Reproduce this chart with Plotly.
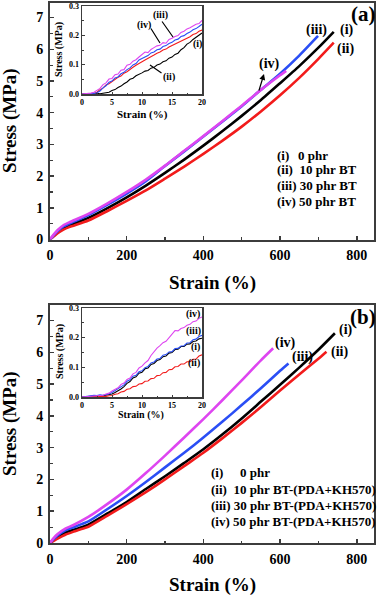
import plotly.graph_objects as go

# ---------------- data ----------------
# Panel (a) main curves: strain (%) / stress (MPa)
A_I_STRAIN = [0, 10, 20, 35, 50, 100, 150, 200, 250, 300, 350, 400, 450, 500, 550, 600, 650, 700, 740]
A_I_STRESS = [0, 0.12, 0.23, 0.36, 0.44, 0.68, 0.99, 1.33, 1.70, 2.10, 2.52, 2.96, 3.42, 3.90, 4.40, 4.93, 5.47, 6.05, 6.55]
A_II_STRAIN = [0, 10, 20, 35, 50, 100, 150, 200, 250, 300, 350, 400, 450, 500, 550, 600, 650, 700, 740]
A_II_STRESS = [0, 0.10, 0.20, 0.31, 0.39, 0.60, 0.90, 1.22, 1.55, 1.92, 2.30, 2.70, 3.12, 3.56, 4.04, 4.55, 5.10, 5.70, 6.21]
A_III_STRAIN = [0, 10, 20, 35, 50, 100, 150, 200, 250, 300, 350, 400, 450, 500, 550, 600, 650, 699]
A_III_STRESS = [0, 0.14, 0.27, 0.41, 0.50, 0.77, 1.10, 1.45, 1.84, 2.32, 2.78, 3.25, 3.72, 4.20, 4.72, 5.23, 5.80, 6.42]
A_IV_STRAIN = [0, 10, 20, 35, 50, 100, 150, 200, 250, 300, 350, 400, 450, 500, 550, 600, 616]
A_IV_STRESS = [0, 0.16, 0.30, 0.45, 0.54, 0.81, 1.14, 1.50, 1.89, 2.33, 2.80, 3.26, 3.74, 4.22, 4.72, 5.18, 5.32]

# Panel (b) main curves
B_I_STRAIN = [0, 10, 20, 40, 60, 80, 100, 150, 200, 250, 300, 350, 400, 450, 500, 550, 600, 650, 700, 743]
B_I_STRESS = [0, 0.11, 0.20, 0.33, 0.41, 0.49, 0.58, 0.93, 1.29, 1.70, 2.10, 2.52, 2.95, 3.42, 3.92, 4.45, 4.98, 5.52, 6.08, 6.60]
B_II_STRAIN = [0, 10, 20, 40, 60, 80, 100, 150, 200, 250, 300, 350, 400, 450, 500, 550, 600, 650, 700, 721]
B_II_STRESS = [0, 0.07, 0.14, 0.26, 0.35, 0.43, 0.51, 0.86, 1.22, 1.60, 2.00, 2.42, 2.84, 3.30, 3.78, 4.28, 4.80, 5.30, 5.80, 6.02]
B_III_STRAIN = [0, 10, 20, 40, 60, 100, 150, 200, 250, 300, 350, 400, 450, 500, 550, 600, 622]
B_III_STRESS = [0, 0.13, 0.24, 0.40, 0.49, 0.68, 1.07, 1.48, 1.92, 2.38, 2.84, 3.32, 3.82, 4.34, 4.87, 5.42, 5.65]
B_IV_STRAIN = [0, 10, 20, 40, 60, 100, 150, 200, 250, 300, 350, 400, 450, 500, 550, 582]
B_IV_STRESS = [0, 0.16, 0.28, 0.45, 0.56, 0.82, 1.23, 1.68, 2.20, 2.75, 3.32, 3.90, 4.50, 5.12, 5.75, 6.13]

# Insets: strain 0-20 % in 0.5 % steps
INSET_STRAIN = [0, 0.5, 1, 1.5, 2, 2.5, 3, 3.5, 4, 4.5, 5, 5.5, 6, 6.5, 7, 7.5, 8, 8.5, 9, 9.5,
                10, 10.5, 11, 11.5, 12, 12.5, 13, 13.5, 14, 14.5, 15, 15.5, 16, 16.5, 17, 17.5,
                18, 18.5, 19, 19.5, 20]
INA_I = [0.000, 0.001, 0.000, 0.001, 0.000, 0.002, 0.001, 0.003, 0.004, 0.006, 0.012, 0.015, 0.022, 0.027,
         0.035, 0.041, 0.050, 0.054, 0.062, 0.066, 0.072, 0.078, 0.080, 0.088, 0.091, 0.099, 0.102, 0.110,
         0.113, 0.122, 0.126, 0.135, 0.139, 0.151, 0.158, 0.170, 0.176, 0.186, 0.193, 0.202, 0.208]
INA_II = [0.000, 0.001, 0.000, 0.001, 0.002, 0.006, 0.015, 0.020, 0.031, 0.035, 0.043, 0.048, 0.057, 0.061,
          0.071, 0.076, 0.085, 0.091, 0.098, 0.103, 0.110, 0.116, 0.121, 0.128, 0.133, 0.139, 0.143, 0.150,
          0.153, 0.160, 0.165, 0.171, 0.175, 0.182, 0.185, 0.192, 0.195, 0.203, 0.206, 0.214, 0.218]
INA_III = [0.000, 0.000, 0.001, 0.000, 0.002, 0.004, 0.010, 0.021, 0.028, 0.040, 0.044, 0.055, 0.058, 0.069,
           0.074, 0.083, 0.089, 0.099, 0.104, 0.116, 0.121, 0.128, 0.131, 0.140, 0.143, 0.151, 0.153, 0.162,
           0.165, 0.172, 0.176, 0.184, 0.187, 0.196, 0.199, 0.206, 0.211, 0.219, 0.223, 0.230, 0.238]
INA_IV = [0.000, 0.001, 0.000, 0.003, 0.006, 0.014, 0.019, 0.032, 0.038, 0.051, 0.053, 0.066, 0.068, 0.081,
          0.083, 0.098, 0.101, 0.112, 0.117, 0.126, 0.136, 0.143, 0.141, 0.152, 0.158, 0.164, 0.166, 0.175,
          0.173, 0.186, 0.190, 0.196, 0.199, 0.210, 0.214, 0.222, 0.226, 0.231, 0.238, 0.240, 0.251]
INB_I = [0.000, 0.001, 0.002, 0.003, 0.004, 0.003, 0.005, 0.004, 0.006, 0.007, 0.010, 0.015, 0.020, 0.027,
         0.035, 0.046, 0.052, 0.064, 0.068, 0.080, 0.083, 0.095, 0.098, 0.110, 0.113, 0.123, 0.126, 0.136,
         0.138, 0.148, 0.150, 0.160, 0.161, 0.170, 0.170, 0.178, 0.179, 0.187, 0.189, 0.196, 0.198]
INB_II = [0.000, 0.000, 0.001, 0.000, 0.001, 0.002, 0.001, 0.002, 0.002, 0.004, 0.005, 0.009, 0.011, 0.017,
          0.019, 0.026, 0.028, 0.035, 0.036, 0.044, 0.045, 0.053, 0.054, 0.062, 0.063, 0.072, 0.073, 0.082,
          0.083, 0.092, 0.093, 0.102, 0.103, 0.111, 0.111, 0.119, 0.119, 0.127, 0.128, 0.138, 0.142]
INB_III = [0.000, 0.002, 0.003, 0.005, 0.006, 0.005, 0.007, 0.006, 0.008, 0.010, 0.015, 0.021, 0.027, 0.035,
           0.041, 0.053, 0.058, 0.070, 0.073, 0.085, 0.088, 0.099, 0.103, 0.115, 0.118, 0.128, 0.130, 0.141,
           0.143, 0.152, 0.153, 0.163, 0.164, 0.172, 0.173, 0.182, 0.183, 0.193, 0.195, 0.204, 0.208]
INB_IV = [0.000, 0.001, 0.002, 0.003, 0.004, 0.004, 0.006, 0.006, 0.010, 0.013, 0.020, 0.026, 0.031, 0.042,
          0.047, 0.059, 0.064, 0.078, 0.083, 0.098, 0.104, 0.115, 0.123, 0.140, 0.153, 0.165, 0.173, 0.183,
          0.188, 0.201, 0.213, 0.224, 0.223, 0.231, 0.234, 0.242, 0.245, 0.254, 0.256, 0.265, 0.270]

MAIN_XTICKS = [0, 200, 400, 600, 800]
MAIN_YTICKS = [0, 1, 2, 3, 4, 5, 6, 7]
INSET_XTICKS = [0, 5, 10, 15, 20]
INSET_YTICKS = [0.0, 0.1, 0.2, 0.3]
LEGEND_A = ["(ii)  10 phr BT", "(iii) 30 phr BT", "(iv) 50 phr BT"]
LEGEND_B = ["(ii)  10 phr BT-(PDA+KH570)", "(iii) 30 phr BT-(PDA+KH570)", "(iv) 50 phr BT-(PDA+KH570)"]

# ---------------- styling ----------------
W, H = 378, 597
SERIF = "Liberation Serif"
C_I, C_II, C_III, C_IV = "#000000", "#F21B1B", "#2A4EF5", "#DE45F0"
FRAME = "#3c3c3c"

def px(x):
    return x / W

def py(y):
    return 1 - y / H

fig = go.Figure()

def add_curves(xs_list, ys_list, xa, ya, width):
    for xs, ys, c in zip(xs_list, ys_list, [C_I, C_II, C_III, C_IV]):
        fig.add_trace(go.Scatter(x=xs, y=ys, mode="lines", xaxis=xa, yaxis=ya,
                                 line=dict(color=c, width=width, shape="spline", smoothing=0.6),
                                 showlegend=False, hoverinfo="skip"))

def add_noisy(ys_list, xa, ya):
    for ys, c in zip(ys_list, [C_I, C_II, C_III, C_IV]):
        fig.add_trace(go.Scatter(x=INSET_STRAIN, y=ys, mode="lines", xaxis=xa, yaxis=ya,
                                 line=dict(color=c, width=1.1), showlegend=False, hoverinfo="skip"))

add_curves([A_I_STRAIN, A_II_STRAIN, A_III_STRAIN, A_IV_STRAIN],
           [A_I_STRESS, A_II_STRESS, A_III_STRESS, A_IV_STRESS], "x", "y", 2.6)
add_noisy([INA_I, INA_II, INA_III, INA_IV], "x2", "y2")
add_curves([B_I_STRAIN, B_II_STRAIN, B_III_STRAIN, B_IV_STRAIN],
           [B_I_STRESS, B_II_STRESS, B_III_STRESS, B_IV_STRESS], "x3", "y3", 2.6)
add_noisy([INB_I, INB_II, INB_III, INB_IV], "x4", "y4")

tick_main = dict(family=SERIF, size=14, color="black", weight="bold")
tick_in = dict(family=SERIF, size=8, color="black", weight="bold")

def main_x(domain, anchor):
    return dict(domain=domain, anchor=anchor, range=[0, 845], tickvals=MAIN_XTICKS,
                ticks="inside", ticklen=4, tickwidth=1.5, tickcolor=FRAME, automargin=False,
                minor=dict(dtick=100, ticks="inside", ticklen=2.5, tickwidth=1.2, tickcolor=FRAME),
                showline=True, linewidth=2, linecolor=FRAME, mirror=True,
                showgrid=False, zeroline=False, tickfont=tick_main, ticklabelstandoff=2)

def main_y(domain, anchor, top):
    return dict(domain=domain, anchor=anchor, range=[0, top], tickvals=MAIN_YTICKS,
                ticks="inside", ticklen=4, tickwidth=1.5, tickcolor=FRAME, automargin=False,
                minor=dict(dtick=0.5, ticks="inside", ticklen=2.5, tickwidth=1.2, tickcolor=FRAME),
                showline=True, linewidth=2, linecolor=FRAME, mirror=True,
                showgrid=False, zeroline=False, tickfont=tick_main, ticklabelstandoff=2)

def in_x(domain, anchor):
    return dict(domain=domain, anchor=anchor, range=[0, 20], tickvals=INSET_XTICKS,
                ticks="inside", ticklen=2.5, tickwidth=1, tickcolor=FRAME, automargin=False,
                minor=dict(dtick=2.5, ticks="inside", ticklen=1.5, tickwidth=1, tickcolor=FRAME),
                showline=True, linewidth=1.5, linecolor=FRAME, mirror=True,
                showgrid=False, zeroline=False, tickfont=tick_in, ticklabelstandoff=0)

def in_y(domain, anchor):
    return dict(domain=domain, anchor=anchor, range=[0, 0.3], tickvals=INSET_YTICKS,
                tickformat=".1f", automargin=False,
                ticks="inside", ticklen=2.5, tickwidth=1, tickcolor=FRAME,
                minor=dict(dtick=0.05, ticks="inside", ticklen=1.5, tickwidth=1, tickcolor=FRAME),
                showline=True, linewidth=1.5, linecolor=FRAME, mirror=True,
                showgrid=False, zeroline=False, tickfont=tick_in, ticklabelstandoff=0)

fig.update_layout(
    width=W, height=H, margin=dict(l=0, r=0, t=0, b=0, pad=0, autoexpand=False),
    paper_bgcolor="white", plot_bgcolor="white", showlegend=False,
    xaxis=main_x([px(50), px(374)], "y"),
    yaxis=main_y([py(239.5), py(3)], "x", 7.46),
    xaxis2=in_x([px(82), px(202)], "y2"),
    yaxis2=in_y([py(94), py(6)], "x2"),
    xaxis3=main_x([px(50), px(374)], "y3"),
    yaxis3=main_y([py(543), py(305)], "x3", 7.49),
    xaxis4=in_x([px(82), px(202)], "y4"),
    yaxis4=in_y([py(397), py(308)], "x4"),
)

ann = []

def text(x, y, s, size, xanchor="center", yanchor="middle", angle=0):
    ann.append(dict(x=px(x), y=py(y), xref="paper", yref="paper", text="<b>%s</b>" % s,
                    showarrow=False, xanchor=xanchor, yanchor=yanchor, textangle=angle,
                    font=dict(family=SERIF, size=size, color="black")))

def seg(x0, y0, x1, y1, head):
    # line from (x0,y0) to (x1,y1) in screen pixels, optional head at (x1,y1)
    ann.append(dict(x=px(x1), y=py(y1), xref="paper", yref="paper",
                    ax=x0 - x1, ay=y0 - y1, axref="pixel", ayref="pixel",
                    text="", showarrow=True, arrowhead=head, arrowsize=1,
                    arrowwidth=1.2, arrowcolor="black", standoff=0, startstandoff=0))

# axis titles
text(10, 121, "Stress (MPa)", 19, angle=-90)
text(212, 283, "Strain (%)", 19)
text(10, 424, "Stress (MPa)", 19, angle=-90)
text(212, 585, "Strain (%)", 19)
text(59, 50, "Stress (MPa)", 10, angle=-90)
text(142, 115, "Strain (%)", 11)
text(60, 352, "Stress (MPa)", 10, angle=-90)
text(141, 414.5, "Strain (%)", 10)
# panel letters
text(363, 14, "(a)", 21)
text(363, 317, "(b)", 21)

# legends
text(275, 155, "(i)", 13, xanchor="left")
text(296, 155, "0 phr", 13, xanchor="left")
for i, s in enumerate(LEGEND_A):
    text(275, 170 + 15.5 * i, s, 13, xanchor="left")
text(209, 473, "(i)", 13, xanchor="left")
text(238, 473, "0 phr", 13, xanchor="left")
for i, s in enumerate(LEGEND_B):
    text(209, 489 + 16 * i, s, 13, xanchor="left")

def end_label(xs, ys, xa, ya, s, xshift, yshift, size=14, xanchor="left"):
    ann.append(dict(x=xs[-1], y=ys[-1], xref=xa, yref=ya, text="<b>%s</b>" % s, showarrow=False,
                    xanchor=xanchor, yanchor="middle", xshift=xshift, yshift=yshift,
                    font=dict(family=SERIF, size=size, color="black")))

# main curve labels (a)
end_label(A_I_STRAIN, A_I_STRESS, "x", "y", "(i)", 4, 2)
end_label(A_II_STRAIN, A_II_STRESS, "x", "y", "(ii)", 1, -6)
end_label(A_III_STRAIN, A_III_STRESS, "x", "y", "(iii)", -2, 6, xanchor="center")
text(269, 64, "(iv)", 14)
seg(258.5, 92, 264, 74, 2)
# main curve labels (b)
end_label(B_I_STRAIN, B_I_STRESS, "x3", "y3", "(i)", 2, 3)
end_label(B_II_STRAIN, B_II_STRESS, "x3", "y3", "(ii)", 3, 0)
end_label(B_III_STRAIN, B_III_STRESS, "x3", "y3", "(iii)", 2, 6)
end_label(B_IV_STRAIN, B_IV_STRESS, "x3", "y3", "(iv)", 0, 5)

# inset labels (a)
text(160, 15, "(iii)", 10)
text(144, 25, "(iv)", 10)
text(169, 77, "(ii)", 10)
text(197, 44, "(i)", 10)
seg(161, 20, 173, 37, 0)
seg(150, 27, 160, 43, 0)
seg(163, 74, 150, 65, 0)
# inset labels (b)
text(202, 314, "(iv)", 10, xanchor="right")
text(203, 331, "(iii)", 10, xanchor="right")
text(202, 347, "(i)", 10, xanchor="right")
text(202, 363, "(ii)", 10, xanchor="right")

fig.update_layout(annotations=ann)
fig.write_html("out.html", config={"displayModeBar": False, "staticPlot": True},
               post_script="document.body.style.margin='0';document.body.style.overflow='hidden';")
